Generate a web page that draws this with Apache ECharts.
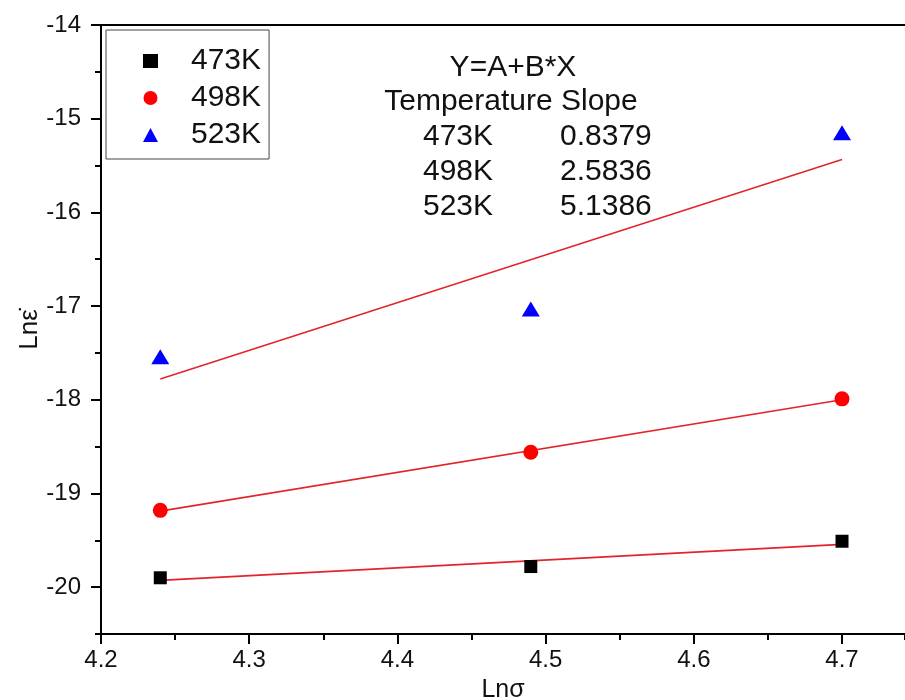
<!DOCTYPE html>
<html>
<head>
<meta charset="utf-8">
<script src="https://cdn.jsdelivr.net/npm/echarts@6/dist/echarts.min.js"></script>
<style>
  html, body { margin: 0; padding: 0; background: #fff; }
  #main { width: 905px; height: 700px; }
</style>
</head>
<body>
<div id="main"></div>
<script>
// 数据
var lnSigma = [4.24, 4.49, 4.70];
var temps = ['473K', '498K', '523K'];
var lnEps473 = [-19.90, -19.78, -19.51];
var lnEps498 = [-19.18, -18.56, -17.99];
var lnEps523 = [-17.54, -17.03, -15.15];
var slopeLabels = ['0.8379', '2.5836', '5.1386'];
var yMajorTicks = [-20, -19, -18, -17, -16, -15, -14];
var xMajorTicks = [4.2, 4.3, 4.4, 4.5, 4.6, 4.7];

var FONT = 'Liberation Sans, Arial, sans-serif';

function pairs (xs, ys) {
  var out = [];
  for (var i = 0; i < xs.length; i++) out.push([xs[i], ys[i]]);
  return out;
}

// 线性拟合 Y=A+B*X
function fitLine (xs, ys) {
  var n = xs.length, mx = 0, my = 0;
  for (var i = 0; i < n; i++) { mx += xs[i]; my += ys[i]; }
  mx /= n; my /= n;
  var sxy = 0, sxx = 0;
  for (var j = 0; j < n; j++) {
    sxy += (xs[j] - mx) * (ys[j] - my);
    sxx += (xs[j] - mx) * (xs[j] - mx);
  }
  var b = sxy / sxx, a = my - b * mx;
  var x0 = xs[0], x1 = xs[n - 1];
  return [[x0, a + b * x0], [x1, a + b * x1]];
}

var chart = echarts.init(document.getElementById('main'), null, { renderer: 'canvas' });

var axisLine = { show: true, lineStyle: { color: '#000', width: 2 } };
var xMax = 4.7425;

var option = {
  animation: false,
  backgroundColor: '#fff',
  grid: { left: 101, top: 25, right: 0, height: 609, outerBoundsMode: 'none', containLabel: false },
  legend: {
    orient: 'vertical',
    left: 106,
    top: 30,
    data: temps,
    itemWidth: 15,
    itemHeight: 14,
    itemGap: 7,
    padding: [16, 8, 9, 37],
    borderColor: '#444',
    borderWidth: 1,
    textStyle: { fontSize: 30, fontFamily: FONT, color: '#111', lineHeight: 29, padding: [0, 0, 0, 28] }
  },
  xAxis: [
    {
      type: 'value', position: 'bottom', min: 4.2, max: xMax, interval: 0.05,
      axisLine: axisLine,
      axisTick: { show: true, length: 10, lineStyle: { color: '#000', width: 2 }, customValues: xMajorTicks },
      axisLabel: { customValues: xMajorTicks, fontSize: 24, fontFamily: FONT, color: '#111', margin: 14,
        formatter: function (v) { return v.toFixed(1); } },
      splitLine: { show: false },
      name: 'Ln\u03C3', nameLocation: 'middle', nameGap: 44,
      nameTextStyle: { fontSize: 25, fontFamily: FONT, color: '#111' }
    },
    {
      type: 'value', position: 'bottom', min: 4.2, max: xMax, interval: 0.05,
      axisLine: { show: false },
      axisTick: { show: true, length: 6, lineStyle: { color: '#000', width: 2 } },
      axisLabel: { show: false },
      splitLine: { show: false }
    },
    {
      type: 'value', position: 'top', min: 4.2, max: xMax,
      axisLine: axisLine,
      axisTick: { show: false },
      axisLabel: { show: false },
      splitLine: { show: false }
    }
  ],
  yAxis: [
    {
      type: 'value', position: 'left', min: -20.5, max: -14, interval: 0.5,
      axisLine: axisLine,
      axisTick: { show: true, length: 10, lineStyle: { color: '#000', width: 2 }, customValues: yMajorTicks },
      axisLabel: { customValues: yMajorTicks, fontSize: 24, fontFamily: FONT, color: '#111', margin: 20 },
      splitLine: { show: false },
      name: 'Ln\u03B5\u0307', nameLocation: 'middle', nameGap: 58, nameRotate: 90, nameMoveOverlap: false,
      nameTextStyle: { fontSize: 26, fontFamily: FONT, color: '#111' }
    },
    {
      type: 'value', position: 'left', min: -20.5, max: -14, interval: 0.5,
      axisLine: { show: false },
      axisTick: { show: true, length: 6, lineStyle: { color: '#000', width: 2 } },
      axisLabel: { show: false },
      splitLine: { show: false }
    }
  ],
  graphic: [],
  series: [
    { name: 'fit473', type: 'line', data: fitLine(lnSigma, lnEps473), showSymbol: false, symbol: 'none',
      lineStyle: { color: '#e3242b', width: 1.6 }, z: 2 },
    { name: 'fit498', type: 'line', data: fitLine(lnSigma, lnEps498), showSymbol: false, symbol: 'none',
      lineStyle: { color: '#e3242b', width: 1.6 }, z: 2 },
    { name: 'fit523', type: 'line', data: fitLine(lnSigma, lnEps523), showSymbol: false, symbol: 'none',
      lineStyle: { color: '#e3242b', width: 1.6 }, z: 2 },
    { name: temps[0], type: 'scatter', data: pairs(lnSigma, lnEps473), symbol: 'rect', symbolSize: 13,
      itemStyle: { color: '#000', opacity: 1 }, z: 3 },
    { name: temps[1], type: 'scatter', data: pairs(lnSigma, lnEps498), symbol: 'circle', symbolSize: 15,
      itemStyle: { color: '#ff0000', opacity: 1 }, z: 3 },
    { name: temps[2], type: 'scatter', data: pairs(lnSigma, lnEps523), symbol: 'triangle', symbolSize: [18, 15],
      itemStyle: { color: '#0000ff', opacity: 1 }, z: 3 }
  ]
};

// 右上角拟合斜率说明
var annStyle = { fontSize: 30, fontFamily: FONT, fill: '#111' };
option.graphic.push({ type: 'text', x: 513, y: 68,
  style: Object.assign({ text: 'Y=A+B*X', align: 'center', verticalAlign: 'middle' }, annStyle) });
option.graphic.push({ type: 'text', x: 511, y: 102,
  style: Object.assign({ text: 'Temperature Slope', align: 'center', verticalAlign: 'middle' }, annStyle) });
for (var i = 0; i < temps.length; i++) {
  var rowY = 137 + i * 35;
  option.graphic.push({ type: 'text', x: 423, y: rowY,
    style: Object.assign({ text: temps[i], align: 'left', verticalAlign: 'middle' }, annStyle) });
  option.graphic.push({ type: 'text', x: 560, y: rowY,
    style: Object.assign({ text: slopeLabels[i], align: 'left', verticalAlign: 'middle' }, annStyle) });
}

chart.setOption(option);
</script>
</body>
</html>
